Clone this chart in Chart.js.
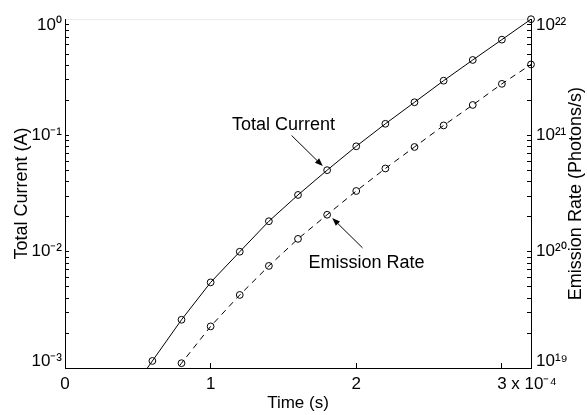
<!DOCTYPE html>
<html lang="en">
<head>
<meta charset="UTF-8">
<title>Total Current and Emission Rate</title>
<script src="https://cdn.jsdelivr.net/npm/chart.js@4"></script>
<style>
  html, body { margin: 0; padding: 0; background: #fff; }
  #wrap { width: 587px; height: 415px; }
</style>
</head>
<body>
<div id="wrap"><canvas id="chart"></canvas></div>
<script>
// time in units of 1e-4 s; first point of each series is only the lead-in of the line (no marker)
const currentTimes  = [0.4, 0.6, 0.8, 1.0, 1.2, 1.4, 1.6, 1.8, 2.0, 2.2, 2.4, 2.6, 2.8, 3.0, 3.2];
const currentValues = [5.1e-4, 1.15e-3, 2.6e-3, 5.45e-3, 1.0e-2, 1.83e-2, 3.08e-2, 5.03e-2, 8.07e-2, 0.126, 0.193, 0.296, 0.446, 0.667, 1.0];
const emissionTimes  = [0.6, 0.8, 1.0, 1.2, 1.4, 1.6, 1.8, 2.0, 2.2, 2.4, 2.6, 2.8, 3.0, 3.2];
const emissionValues = [5.3e18, 1.1e19, 2.28e19, 4.25e19, 7.55e19, 1.29e20, 2.08e20, 3.33e20, 5.2e20, 7.96e20, 1.22e21, 1.83e21, 2.78e21, 4.08e21];

const xTickValues = [0, 1, 2, 3];
const xTickLabels = ['0', '1', '2', '3 x 10\u207B\u2074'];

const FONT = "'Liberation Sans', Arial, Helvetica, sans-serif";

const SUP = {'0':'\u2070','1':'\u00B9','2':'\u00B2','3':'\u00B3','4':'\u2074','5':'\u2075','6':'\u2076','7':'\u2077','8':'\u2078','9':'\u2079','-':'\u207B'};
function powLabel(v) {
    const e = Math.log10(v);
    const r = Math.round(e);
    if (Math.abs(e - r) > 1e-6) return '';
    return '10' + String(r).split('').map(c => SUP[c]).join('');
}
function onlyDecadeSteps(scale) {
    // drop the 1.5x ticks chart.js adds, keep 1..9 x 10^n
    scale.ticks = scale.ticks.filter(t => {
        const m = t.value / Math.pow(10, Math.floor(Math.log10(t.value) + 1e-9));
        return Math.abs(m - Math.round(m)) < 1e-6;
    });
}

function toPoints(xs, ys) {
    return xs.map((x, i) => ({ x: x, y: ys[i] }));
}
function markerRadius(n) {
    return Array.from({ length: n }, (_, i) => i === 0 ? 0 : 3.4);
}

// annotations, in data coordinates
const notes = [
    { text: 'Total Current', axis: 'y',  tx: 1.50, ty: 0.124, from: [1.556, 0.1],  to: [1.77, 0.0545] },
    { text: 'Emission Rate', axis: 'y2', tx: 2.07, ty: 8.06e19, from: [2.043, 1.08e20], to: [1.835, 1.95e20] }
];

const annotate = {
    id: 'annotate',
    beforeDraw(chart) {
        // tweak tick label placement like the original figure
        const y = chart.scales.y, y2 = chart.scales.y2, x = chart.scales.x;
        [y, y2].forEach(s => {
            const items = s.getLabelItems();
            items.forEach(it => {
                if (it.label === '') return;
                const py = it.options.translation[1];
                if (Math.abs(py - chart.chartArea.top) < 2) it.options.translation[1] += 6;
                if (Math.abs(py - chart.chartArea.bottom) < 2) it.options.translation[1] -= 7;
            });
        });
        const ctx = chart.ctx;
        const xi = x.getLabelItems();
        xi.forEach(it => {
            if (it.label === xTickLabels[3]) {
                ctx.font = `17px ${FONT}`;
                const full = ctx.measureText(it.label).width;
                const first = ctx.measureText('3').width;
                it.options.translation[0] += (full - first) / 2;
            }
        });
    },
    afterDraw(chart) {
        const ctx = chart.ctx;
        const xs = chart.scales.x;
        ctx.save();
        ctx.fillStyle = '#000';
        ctx.strokeStyle = '#000';
        ctx.lineWidth = 1;
        ctx.font = `18px ${FONT}`;
        ctx.textAlign = 'center';
        ctx.textBaseline = 'middle';
        notes.forEach(n => {
            const ys = chart.scales[n.axis];
            ctx.fillText(n.text, xs.getPixelForValue(n.tx), ys.getPixelForValue(n.ty));
            const x1 = xs.getPixelForValue(n.from[0]), y1 = ys.getPixelForValue(n.from[1]);
            const x2 = xs.getPixelForValue(n.to[0]), y2 = ys.getPixelForValue(n.to[1]);
            const a = Math.atan2(y2 - y1, x2 - x1);
            const L = 8, W = 3;
            ctx.beginPath();
            ctx.moveTo(x1, y1);
            ctx.lineTo(x2 - L * Math.cos(a), y2 - L * Math.sin(a));
            ctx.stroke();
            ctx.beginPath();
            ctx.moveTo(x2, y2);
            ctx.lineTo(x2 - L * Math.cos(a) + W * Math.sin(a), y2 - L * Math.sin(a) - W * Math.cos(a));
            ctx.lineTo(x2 - L * Math.cos(a) - W * Math.sin(a), y2 - L * Math.sin(a) + W * Math.cos(a));
            ctx.closePath();
            ctx.fill();
        });

        // right axis title reads bottom-to-top like the left one
        const area = chart.chartArea;
        ctx.font = `18px ${FONT}`;
        ctx.translate(576, (area.top + area.bottom) / 2);
        ctx.rotate(-Math.PI / 2);
        ctx.fillText('Emission Rate (Photons/s)', 0, 0);
        ctx.restore();
    }
};

new Chart(document.getElementById('chart'), {
    type: 'line',
    data: {
        datasets: [{
            label: 'Total Current',
            data: toPoints(currentTimes, currentValues),
            yAxisID: 'y',
            borderColor: '#000',
            borderWidth: 1,
            pointRadius: markerRadius(currentTimes.length),
            pointBorderColor: '#000',
            pointBackgroundColor: 'rgba(0,0,0,0)',
            pointBorderWidth: 1,
            tension: 0,
            clip: { left: 6, top: 6, right: 6, bottom: 0 }
        }, {
            label: 'Emission Rate',
            data: toPoints(emissionTimes, emissionValues),
            yAxisID: 'y2',
            borderColor: '#000',
            borderWidth: 1,
            borderDash: [6, 5],
            pointRadius: markerRadius(emissionTimes.length),
            pointBorderColor: '#000',
            pointBackgroundColor: 'rgba(0,0,0,0)',
            pointBorderWidth: 1,
            tension: 0,
            clip: { left: 6, top: 6, right: 6, bottom: 0 }
        }]
    },
    options: {
        responsive: true,
        maintainAspectRatio: false,
        animation: false,
        events: [],
        layout: { padding: 0 },
        plugins: { legend: { display: false }, tooltip: { enabled: false } },
        scales: {
            x: {
                type: 'linear',
                position: 'bottom',
                min: 0,
                max: 3.2,
                afterBuildTicks: s => { s.ticks = xTickValues.map(v => ({ value: v })); },
                afterFit: s => { s.height = 47; },
                ticks: {
                    color: '#000',
                    font: { family: FONT, size: 17 },
                    padding: 11,
                    maxRotation: 0,
                    autoSkip: false,
                    callback: (v) => xTickLabels[xTickValues.indexOf(v)] ?? ''
                },
                grid: { drawOnChartArea: false, drawTicks: true, tickLength: -5, color: '#000', tickColor: '#000' },
                border: { display: true, color: '#000', width: 1 },
                title: { display: true, text: 'Time (s)', color: '#000', font: { family: FONT, size: 17 }, padding: { top: 0, bottom: 1 } }
            },
            top: {
                type: 'linear',
                position: 'top',
                min: 0,
                max: 3.2,
                afterFit: s => { s.height = 16; },
                ticks: { display: false },
                grid: { drawOnChartArea: false, drawTicks: false },
                border: { display: true, color: '#ececec', width: 1 }
            },
            y: {
                type: 'logarithmic',
                position: 'left',
                min: 1e-3,
                max: 1,
                afterBuildTicks: onlyDecadeSteps,
                afterFit: s => { s.width = 65; },
                ticks: {
                    color: '#000',
                    font: { family: FONT, size: 17 },
                    padding: 7,
                    autoSkip: false,
                    callback: (v) => powLabel(v)
                },
                grid: { drawOnChartArea: false, drawTicks: true, tickLength: -4, color: '#000', tickColor: '#000' },
                border: { display: true, color: '#000', width: 1 },
                title: { display: true, text: 'Total Current (A)', color: '#000', font: { family: FONT, size: 18 }, padding: { top: 11, bottom: 0 } }
            },
            y2: {
                type: 'logarithmic',
                position: 'right',
                min: 1e19,
                max: 1e22,
                afterBuildTicks: onlyDecadeSteps,
                afterFit: s => { s.width = 56; },
                ticks: {
                    color: '#000',
                    font: { family: FONT, size: 17 },
                    padding: 9,
                    autoSkip: false,
                    callback: (v) => powLabel(v)
                },
                grid: { drawOnChartArea: false, drawTicks: true, tickLength: -4, color: '#000', tickColor: '#000' },
                border: { display: true, color: '#000', width: 1 }
            }
        }
    },
    plugins: [annotate]
});
</script>
</body>
</html>
